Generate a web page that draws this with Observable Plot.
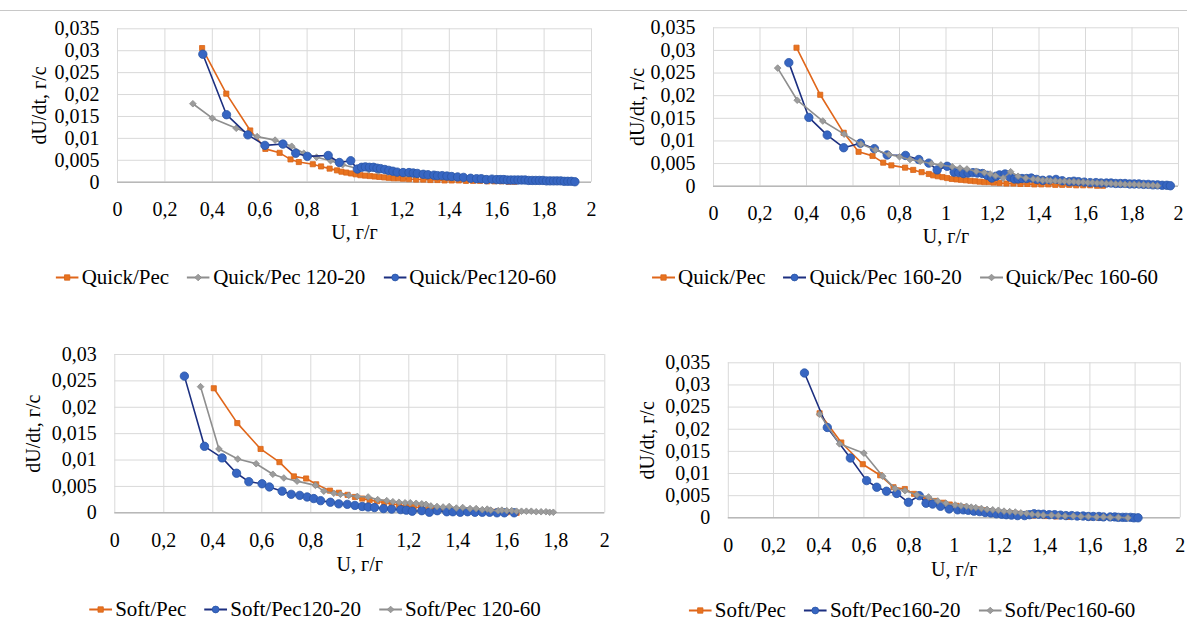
<!DOCTYPE html>
<html><head><meta charset="utf-8">
<script src="https://cdn.jsdelivr.net/npm/d3@7"></script>
<script src="https://cdn.jsdelivr.net/npm/@observablehq/plot@0.6"></script>
<style>
html,body{margin:0;padding:0;background:#fff;}
body{width:1187px;height:620px;position:relative;overflow:hidden;font-family:'Liberation Serif';color:#000;}
.panel{position:absolute;}
.rule{position:absolute;left:0;top:10px;width:1187px;height:1px;background:#c8c8c8;}
.legend{position:absolute;display:flex;align-items:center;white-space:nowrap;font-size:21px;transform:translate(-50%,-50%);}
.legend .item{display:flex;align-items:center;margin-right:18px;}
.legend .item:last-child{margin-right:0;}
.legend svg{margin-right:3px;}
</style></head><body>
<div class="rule"></div>
<script>
// ---------- data ----------
const xTicks = [0, 0.2, 0.4, 0.6, 0.8, 1, 1.2, 1.4, 1.6, 1.8, 2];
const yTicks035 = [0, 0.005, 0.01, 0.015, 0.02, 0.025, 0.03, 0.035];
const yTicks030 = [0, 0.005, 0.01, 0.015, 0.02, 0.025, 0.03];
const xLabel = "U, г/г";
const yLabel = "dU/dt, г/с";

// Quick/Pec (shared by both top charts)
const quickPecU = [0.357,0.459,0.560,0.624,0.684,0.730,0.765,0.824,0.859,0.895,0.926,0.945,0.965,0.985,1.005,1.025,1.045,1.065,1.085,1.105,1.125,1.145,1.165,1.185,1.205,1.23,1.26,1.29,1.32,1.35,1.38,1.41,1.44,1.47,1.50,1.53,1.56,1.59,1.62,1.65,1.675];
const quickPecR = [0.0306,0.0202,0.0118,0.0076,0.0067,0.0052,0.0046,0.0041,0.0036,0.0031,0.0027,0.0024,0.0022,0.0020,0.0018,0.0016,0.0015,0.0014,0.0013,0.0012,0.0011,0.0010,0.0009,0.0009,0.0008,0.0007,0.0006,0.0006,0.0005,0.0005,0.0004,0.0004,0.0004,0.0003,0.0003,0.0003,0.0002,0.0002,0.0002,0.0001,0.0001];

// Quick/Pec 120-20
const quick120_20U = [0.318,0.400,0.501,0.589,0.665,0.735,0.786,0.84,0.899,0.95,1.02,1.06,1.10,1.14,1.18,1.22,1.26,1.30,1.34,1.38,1.42,1.46,1.50,1.55,1.60,1.65,1.70,1.75,1.80,1.85];
const quick120_20R = [0.0179,0.0146,0.0123,0.0104,0.0096,0.0082,0.0066,0.0057,0.0049,0.0040,0.0030,0.0028,0.0025,0.0023,0.0021,0.0019,0.0017,0.0015,0.0014,0.0012,0.0011,0.0010,0.0009,0.0008,0.0007,0.0006,0.0005,0.0004,0.0003,0.0002];

// Quick/Pec120-60
const quick120_60U = [0.360,0.460,0.550,0.622,0.698,0.752,0.801,0.889,0.936,0.984,1.012,1.03,1.046,1.063,1.08,1.095,1.11,1.128,1.145,1.162,1.18,1.205,1.23,1.248,1.265,1.29,1.31,1.335,1.35,1.37,1.39,1.41,1.435,1.46,1.49,1.515,1.535,1.557,1.58,1.60,1.615,1.63,1.645,1.66,1.675,1.69,1.705,1.72,1.735,1.75,1.765,1.78,1.795,1.81,1.825,1.84,1.855,1.87,1.885,1.90,1.915,1.93];
const quick120_60R = [0.0292,0.0154,0.0108,0.0084,0.0087,0.0066,0.0059,0.0061,0.0045,0.0049,0.0030,0.0034,0.0035,0.0034,0.0034,0.0032,0.0031,0.0029,0.0027,0.0025,0.0023,0.0022,0.0022,0.0021,0.0020,0.0018,0.0017,0.0016,0.0015,0.0015,0.0014,0.0013,0.0012,0.0011,0.0009,0.0008,0.0008,0.0006,0.0007,0.0006,0.0006,0.0006,0.0005,0.0005,0.0005,0.0005,0.0005,0.0005,0.0004,0.0004,0.0004,0.0004,0.0004,0.0003,0.0003,0.0003,0.0003,0.0003,0.0002,0.0002,0.0002,0.0001];

// Quick/Pec 160-20
const quick160_20U = [0.324,0.410,0.489,0.560,0.632,0.692,0.747,0.826,0.883,0.926,0.962,1.005,1.035,1.055,1.075,1.095,1.116,1.135,1.157,1.177,1.197,1.215,1.230,1.254,1.275,1.294,1.31,1.327,1.347,1.367,1.39,1.416,1.445,1.473,1.50,1.53,1.55,1.57,1.595,1.62,1.645,1.667,1.69,1.71,1.73,1.75,1.77,1.79,1.81,1.83,1.85,1.87,1.89,1.91,1.93,1.95,1.965];
const quick160_20R = [0.0273,0.0152,0.0113,0.0085,0.0095,0.0083,0.0069,0.0068,0.0059,0.0051,0.0036,0.0044,0.0031,0.0030,0.0028,0.0029,0.0030,0.0029,0.0028,0.0024,0.0018,0.0022,0.0025,0.0027,0.0020,0.0016,0.0016,0.0017,0.0017,0.0018,0.0015,0.0013,0.0014,0.0015,0.0012,0.0010,0.0011,0.0010,0.0009,0.0008,0.0008,0.0007,0.0007,0.0007,0.0006,0.0006,0.0006,0.0005,0.0005,0.0005,0.0004,0.0004,0.0003,0.0003,0.0002,0.0002,0.0001];

// Quick/Pec 160-60
const quick160_60U = [0.276,0.360,0.470,0.562,0.634,0.697,0.755,0.80,0.845,0.889,0.937,0.978,1.027,1.06,1.09,1.13,1.165,1.19,1.213,1.246,1.278,1.31,1.343,1.375,1.395,1.416,1.435,1.45,1.47,1.49,1.51,1.53,1.55,1.57,1.59,1.61,1.63,1.65,1.67,1.69,1.71,1.73,1.75,1.77,1.79,1.81,1.83,1.85,1.87,1.89,1.91];
const quick160_60R = [0.0261,0.0190,0.0144,0.0115,0.0093,0.0080,0.0070,0.0065,0.0059,0.0055,0.0050,0.0047,0.0043,0.0040,0.0038,0.0033,0.0030,0.0027,0.0023,0.0018,0.0032,0.0022,0.0018,0.0016,0.0015,0.0013,0.0013,0.0012,0.0012,0.0011,0.0011,0.0010,0.0010,0.0009,0.0009,0.0008,0.0008,0.0007,0.0007,0.0006,0.0006,0.0005,0.0005,0.0004,0.0004,0.0004,0.0003,0.0003,0.0002,0.0002,0.0001];

// Soft/Pec (shared by both bottom charts)
const softPecU = [0.404,0.500,0.595,0.672,0.731,0.781,0.822,0.878,0.914,0.95,0.98,1.01,1.04,1.07,1.10,1.13,1.16,1.19,1.22,1.25,1.28,1.31,1.35,1.40,1.45,1.50,1.55,1.60,1.64];
const softPecR = [0.0236,0.0170,0.0121,0.0096,0.0069,0.0065,0.0054,0.0042,0.0038,0.0034,0.0030,0.0027,0.0024,0.0022,0.0019,0.0017,0.0015,0.0013,0.0011,0.0010,0.0009,0.0007,0.0005,0.0004,0.0003,0.0002,0.0002,0.0001,0.0000];

// Soft/Pec120-20
const soft120_20U = [0.284,0.366,0.438,0.497,0.547,0.601,0.631,0.683,0.720,0.755,0.785,0.812,0.840,0.880,0.914,0.949,0.98,1.01,1.034,1.06,1.097,1.13,1.167,1.19,1.214,1.253,1.284,1.316,1.355,1.38,1.41,1.44,1.47,1.50,1.53,1.56,1.59,1.63];
const soft120_20R = [0.0259,0.0126,0.0104,0.0075,0.0059,0.0055,0.0049,0.0041,0.0035,0.0033,0.0030,0.0027,0.0023,0.0020,0.0017,0.0016,0.0014,0.0012,0.0011,0.0010,0.0008,0.0007,0.0006,0.0005,0.0003,0.0004,0.0001,0.0004,0.0002,0.0002,0.0001,0.0002,0.0001,0.0001,0.0001,0.0000,0.0000,0.0000];

// Soft/Pec 120-60
const soft120_60U = [0.350,0.425,0.502,0.577,0.645,0.690,0.744,0.819,0.853,0.894,0.921,0.955,0.99,1.034,1.073,1.11,1.135,1.16,1.185,1.206,1.23,1.253,1.27,1.29,1.315,1.34,1.365,1.394,1.42,1.45,1.475,1.50,1.52,1.535,1.565,1.58,1.60,1.62,1.64,1.66,1.68,1.70,1.72,1.74,1.76,1.775,1.79];
const soft120_60R = [0.0239,0.0121,0.0102,0.0093,0.0073,0.0066,0.0060,0.0052,0.0041,0.0037,0.0035,0.0033,0.0031,0.0030,0.0025,0.0023,0.0021,0.0020,0.0019,0.0019,0.0018,0.0017,0.0016,0.0013,0.0012,0.0011,0.0012,0.0009,0.0010,0.0008,0.0008,0.0006,0.0007,0.0005,0.0004,0.0005,0.0004,0.0004,0.0003,0.0003,0.0003,0.0003,0.0002,0.0002,0.0002,0.0001,0.0001];

// Soft/Pec160-20
const soft160_20U = [0.337,0.438,0.540,0.612,0.657,0.700,0.745,0.797,0.845,0.875,0.904,0.939,0.977,1.015,1.04,1.062,1.087,1.112,1.137,1.162,1.186,1.21,1.23,1.253,1.28,1.311,1.333,1.353,1.373,1.394,1.42,1.444,1.47,1.494,1.52,1.544,1.57,1.593,1.615,1.64,1.66,1.69,1.71,1.726,1.745,1.76,1.78,1.795,1.813];
const soft160_20R = [0.0327,0.0204,0.0135,0.0084,0.0069,0.0060,0.0055,0.0035,0.0050,0.0033,0.0031,0.0026,0.0020,0.0018,0.0018,0.0017,0.0015,0.0014,0.0012,0.0011,0.0009,0.0008,0.0007,0.0006,0.0005,0.0005,0.0007,0.0009,0.0008,0.0008,0.0007,0.0007,0.0006,0.0005,0.0005,0.0004,0.0004,0.0003,0.0003,0.0003,0.0002,0.0002,0.0002,0.0001,0.0001,0.0001,0.0001,0.0000,0.0000];

// Soft/Pec160-60
const soft160_60U = [0.404,0.492,0.600,0.683,0.738,0.782,0.834,0.886,0.927,0.963,1.004,1.03,1.054,1.075,1.095,1.12,1.145,1.17,1.195,1.22,1.245,1.27,1.295,1.32,1.344,1.37,1.394,1.43,1.46,1.49,1.527,1.56,1.593,1.63,1.66,1.69,1.726,1.768];
const soft160_60R = [0.0234,0.0167,0.0146,0.0094,0.0066,0.0061,0.0052,0.0047,0.0038,0.0033,0.0029,0.0027,0.0026,0.0024,0.0023,0.0021,0.0019,0.0018,0.0017,0.0015,0.0014,0.0013,0.0011,0.0010,0.0008,0.0007,0.0006,0.0006,0.0005,0.0004,0.0004,0.0003,0.0003,0.0002,0.0002,0.0001,0.0001,0.0000];

// ---------- styles ----------
const FONT = "Liberation Serif";
const STYLES = {
  orange: {line: "#E0661A", fill: "#E8731F", stroke: "#D8651A", symbol: "square", r: 2.9, legendR: 3},
  gray:   {line: "#8E8E8E", fill: "#9C9C9C", stroke: "#8A8A8A", symbol: "diamond2", r: 3.0, legendR: 3},
  blue:   {line: "#1C2F80", fill: "#3766C2", stroke: "#2A55A6", symbol: "circle", r: 4.2, legendR: 3.4}
};

const fmt = d => String(d).replace(".", ",");
const zip = (u, r) => u.map((v, i) => ({u: v, r: r[i]}));

const panels = [
  {left: 0, top: 0, width: 600, height: 260, mL: 117, mR: 9, mT: 28.3, plotBottom: 181.7,
   yTicks: yTicks035, yMax: 0.035, yLabelOffset: 86, xLabelOffset: 57, legend: [306, 277],
   series: [
     {name: "Quick/Pec", u: quickPecU, r: quickPecR, style: "orange"},
     {name: "Quick/Pec 120-20", u: quick120_20U, r: quick120_20R, style: "gray"},
     {name: "Quick/Pec120-60", u: quick120_60U, r: quick120_60R, style: "blue"}
   ]},
  {left: 600, top: 0, width: 587, height: 262, mL: 113, mR: 9, mT: 27.3, plotBottom: 185.7,
   yTicks: yTicks035, yMax: 0.035, yLabelOffset: 84, xLabelOffset: 57, legend: [905, 277],
   series: [
     {name: "Quick/Pec", u: quickPecU, r: quickPecR, style: "orange"},
     {name: "Quick/Pec 160-20", u: quick160_20U, r: quick160_20R, style: "blue"},
     {name: "Quick/Pec 160-60", u: quick160_60U, r: quick160_60R, style: "gray"}
   ]},
  {left: 0, top: 300, width: 616, height: 290, mL: 114.3, mR: 11.7, mT: 54, plotBottom: 212.3,
   yTicks: yTicks030, yMax: 0.03, yLabelOffset: 89, xLabelOffset: 58, legend: [315, 609],
   series: [
     {name: "Soft/Pec", u: softPecU, r: softPecR, style: "orange"},
     {name: "Soft/Pec120-20", u: soft120_20U, r: soft120_20R, style: "blue"},
     {name: "Soft/Pec 120-60", u: soft120_60U, r: soft120_60R, style: "gray"}
   ]},
  {left: 606, top: 300, width: 581, height: 295, mL: 121.8, mR: 7.2, mT: 62.3, plotBottom: 217.3,
   yTicks: yTicks035, yMax: 0.035, yLabelOffset: 89, xLabelOffset: 58, legend: [912, 610],
   series: [
     {name: "Soft/Pec", u: softPecU, r: softPecR, style: "orange"},
     {name: "Soft/Pec160-20", u: soft160_20U, r: soft160_20R, style: "blue"},
     {name: "Soft/Pec160-60", u: soft160_60U, r: soft160_60R, style: "gray"}
   ]}
];

for (const p of panels) {
  const mB = p.height - p.plotBottom;
  const marks = [
    Plot.gridX(xTicks, {stroke: "#d9d9d9", strokeOpacity: 1, strokeWidth: 1}),
    Plot.gridY(p.yTicks, {stroke: "#d9d9d9", strokeOpacity: 1, strokeWidth: 1}),
    Plot.ruleY([0], {stroke: "#b8b8b8", strokeWidth: 1.4}),
    Plot.axisX({ticks: xTicks, tickSize: 0, tickPadding: 20, tickFormat: fmt, fontFamily: FONT, fontSize: 20,
      label: xLabel, labelAnchor: "center", labelOffset: p.xLabelOffset, labelArrow: "none"}),
    Plot.axisY({ticks: p.yTicks, tickSize: 0, tickPadding: 18, tickFormat: fmt, fontFamily: FONT, fontSize: 20,
      label: yLabel, labelAnchor: "center", labelOffset: p.yLabelOffset, labelArrow: "none"})
  ];
  for (const s of p.series) {
    const st = STYLES[s.style];
    const data = zip(s.u, s.r);
    marks.push(Plot.line(data, {x: "u", y: "r", stroke: st.line, strokeWidth: 1.6}));
    marks.push(Plot.dot(data, {x: "u", y: "r", symbol: st.symbol, r: st.r, fill: st.fill, stroke: st.stroke, strokeWidth: 0.8}));
  }
  const chart = Plot.plot({
    width: p.width, height: p.height,
    marginLeft: p.mL, marginRight: p.mR, marginTop: p.mT, marginBottom: mB,
    style: {fontFamily: FONT, fontSize: "20px", color: "#000", background: "transparent", overflow: "visible"},
    x: {domain: [0, 2]},
    y: {domain: [0, p.yMax]},
    marks
  });
  const div = document.createElement("div");
  div.className = "panel";
  div.style.left = p.left + "px";
  div.style.top = p.top + "px";
  div.style.width = p.width + "px";
  div.style.height = p.height + "px";
  div.style.overflow = "hidden";
  div.appendChild(chart);
  document.body.appendChild(div);

  // legend
  const lg = document.createElement("div");
  lg.className = "legend";
  lg.style.left = p.legend[0] + "px";
  lg.style.top = p.legend[1] + "px";
  for (const s of p.series) {
    const st = STYLES[s.style];
    const item = document.createElement("div");
    item.className = "item";
    const svg = d3.create("svg").attr("width", 23).attr("height", 12);
    svg.append("line").attr("x1", 0).attr("x2", 23).attr("y1", 6).attr("y2", 6)
      .attr("stroke", st.line).attr("stroke-width", 1.8);
    const sym = {square: d3.symbolSquare, diamond2: d3.symbolDiamond2, circle: d3.symbolCircle}[st.symbol];
    svg.append("path").attr("transform", "translate(11.5,6)")
      .attr("d", d3.symbol(sym, Math.PI * st.legendR * st.legendR)())
      .attr("fill", st.fill).attr("stroke", st.stroke).attr("stroke-width", 0.8);
    item.appendChild(svg.node());
    const t = document.createElement("span");
    t.textContent = s.name;
    item.appendChild(t);
    lg.appendChild(item);
  }
  document.body.appendChild(lg);
}
</script>
</body></html>
